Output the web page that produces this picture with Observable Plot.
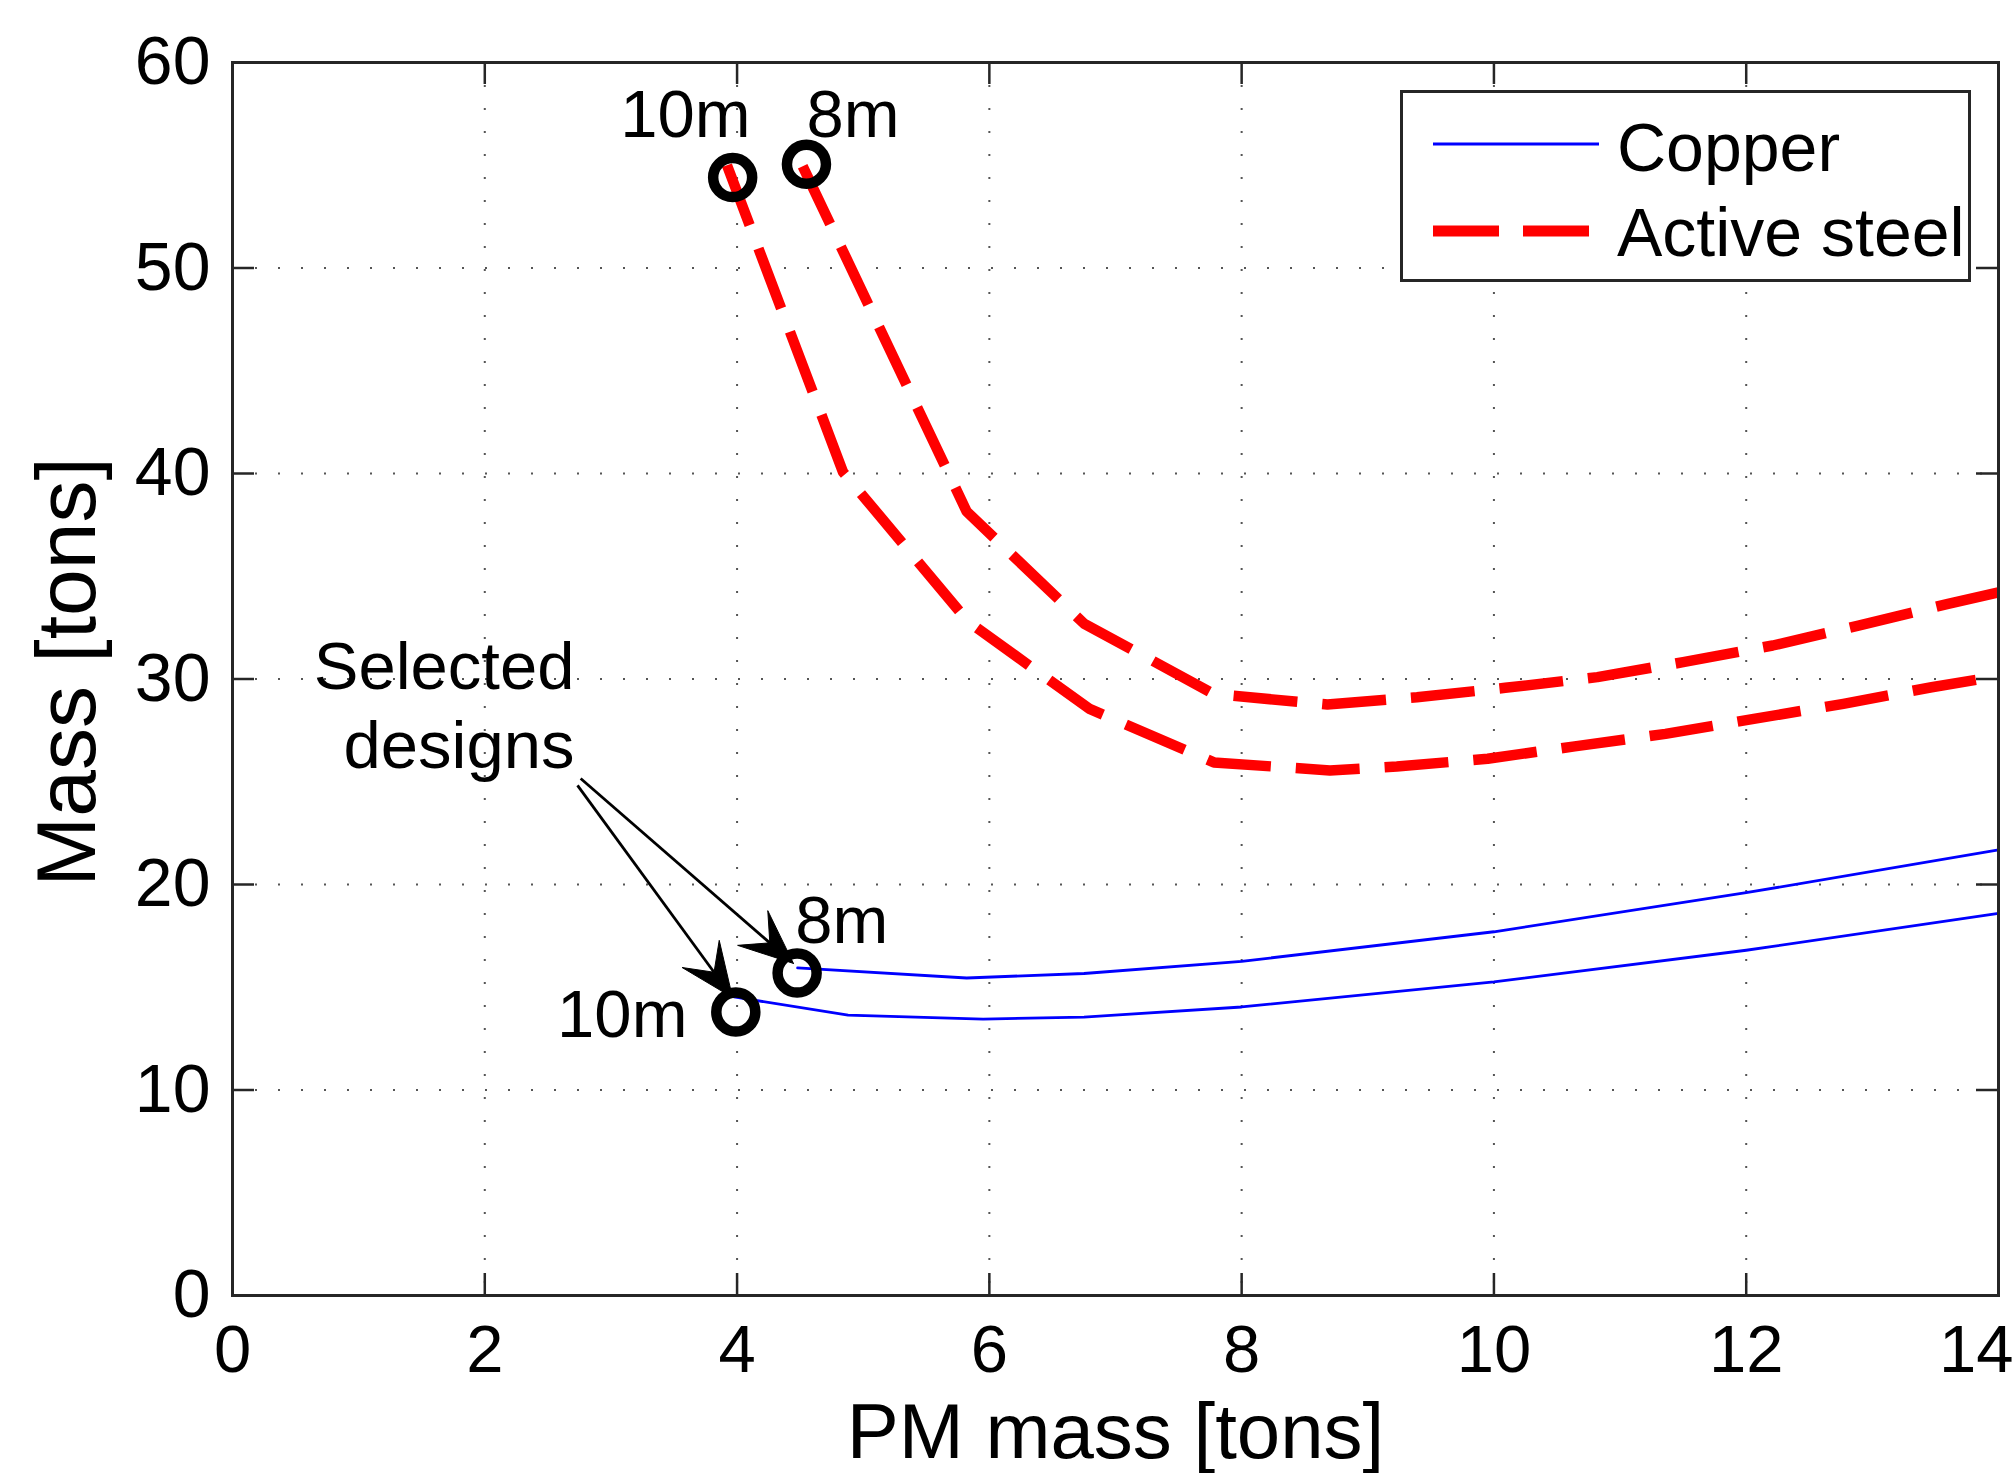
<!DOCTYPE html>
<html>
<head>
<meta charset="utf-8">
<script src="https://cdn.jsdelivr.net/npm/d3@7"></script>
<script src="https://cdn.jsdelivr.net/npm/@observablehq/plot@0.6"></script>
<style>
  html, body { margin: 0; padding: 0; background: #fff; overflow: hidden; }
  #wrap { position: relative; width: 2015px; height: 1473px; }
  #wrap > svg.chart { position: absolute; left: 0; top: 0; }
  #wrap > svg#legend { position: absolute; left: 1400px; top: 90px; }
</style>
</head>
<body>
<div id="wrap"></div>
<script>
// ---------- data ----------
const xTicks = [0, 2, 4, 6, 8, 10, 12, 14];
const yTicks = [0, 10, 20, 30, 40, 50, 60];

// Copper mass vs PM mass (tons)
const copper8X  = [4.48, 5.82, 6.75, 8.0, 10.0, 12.0, 14.0];
const copper8Y  = [15.94, 15.45, 15.67, 16.26, 17.7, 19.6, 21.68];
const copper10X = [3.975, 4.88, 5.95, 6.75, 8.0, 10.0, 12.0, 14.0];
const copper10Y = [14.53, 13.64, 13.45, 13.55, 14.04, 15.26, 16.8, 18.6];

// Active steel mass vs PM mass (tons)
const steel8X  = [4.52, 5.82, 6.75, 7.78, 8.68, 9.39, 10.09, 10.82, 11.5, 12.21, 12.89, 13.6, 14.0];
const steel8Y  = [54.95, 38.15, 32.7, 29.27, 28.76, 29.11, 29.57, 30.09, 30.82, 31.63, 32.6, 33.66, 34.22];
const steel10X = [3.92, 4.84, 5.83, 6.79, 7.78, 8.70, 9.23, 9.95, 10.64, 11.36, 12.06, 12.77, 13.47, 14.0];
const steel10Y = [55.0, 40.07, 32.8, 28.56, 25.94, 25.55, 25.74, 26.12, 26.72, 27.33, 28.06, 28.79, 29.6, 30.14];

// Selected designs (circles)
const selX = [3.965, 4.55, 4.476, 3.99];
const selY = [54.4, 55.05, 15.69, 13.79];

// Diameter labels
const diamLabels = ["10m", "8m", "8m", "10m"];
const diamX = [3.59, 4.92, 4.83, 3.09];
const diamY = [56.36, 56.36, 17.13, 12.57];

// Callout text
const calloutLines = ["Selected", "designs"];
const calloutX = [2.711, 2.711];
const calloutY = [29.49, 25.69];

// Callout arrows (from text to selected designs)
const arrowX1 = [2.76, 2.735];
const arrowY1 = [25.16, 24.82];
const arrowX2 = [4.447, 3.964];
const arrowY2 = [16.16, 14.50];

const legendLabels = ["Copper", "Active steel"];

// ---------- layout ----------
const W = 2015, H = 1473;
const mTop = 62, mRight = 17, mBottom = 178, mLeft = 232;
const xDomain = [0, 14], yDomain = [0, 60];
const kx = (W - mLeft - mRight) / (xDomain[1] - xDomain[0]);
const ky = (H - mTop - mBottom) / (yDomain[1] - yDomain[0]);
const tickLen = 22;
const font = "'Liberation Sans', Arial, Helvetica, sans-serif";

const toRows = (xs, ys) => xs.map((x, i) => ({x, y: ys[i]}));
const lastX = xTicks[xTicks.length - 1];

// Arrowheads: filled "vback" shape built in screen offsets then mapped to data
const headL = 54, headW = 23, notch = 0.58;
const heads = [];
const shafts = [];
arrowX1.forEach((_, i) => {
  const tx = arrowX2[i], ty = arrowY2[i];
  const dx = (tx - arrowX1[i]) * kx, dy = -(ty - arrowY1[i]) * ky;
  const len = Math.hypot(dx, dy), ux = dx / len, uy = dy / len;
  const nx = -uy, ny = ux;
  const pts = [
    [0, 0],
    [-headL * ux + headW * nx, -headL * uy + headW * ny],
    [-notch * headL * ux, -notch * headL * uy],
    [-headL * ux - headW * nx, -headL * uy - headW * ny],
    [0, 0]
  ];
  pts.forEach(([ox, oy]) => heads.push({id: i, x: tx + ox / kx, y: ty - oy / ky}));
  shafts.push({x1: arrowX1[i], y1: arrowY1[i],
               x2: tx - notch * headL * ux / kx, y2: ty + notch * headL * uy / ky});
});

const plot = Plot.plot({
  width: W, height: H,
  marginTop: mTop, marginRight: mRight, marginBottom: mBottom, marginLeft: mLeft,
  x: {domain: xDomain},
  y: {domain: yDomain},
  style: {fontFamily: font, color: "#000", background: "transparent", overflow: "visible"},
  marks: [
    Plot.gridX(xTicks, {stroke: "#555", strokeOpacity: 1, strokeWidth: 2, strokeDasharray: "2,21"}),
    Plot.gridY(yTicks, {stroke: "#555", strokeOpacity: 1, strokeWidth: 2, strokeDasharray: "2,21"}),
    // inner tick marks on all four sides
    Plot.ruleX(xTicks, {x: d => d, y1: yDomain[0], y2: yDomain[0] + tickLen / ky, stroke: "#262626", strokeWidth: 2.5}),
    Plot.ruleX(xTicks, {x: d => d, y1: yDomain[1] - tickLen / ky, y2: yDomain[1], stroke: "#262626", strokeWidth: 2.5}),
    Plot.ruleY(yTicks, {y: d => d, x1: xDomain[0], x2: xDomain[0] + tickLen / kx, stroke: "#262626", strokeWidth: 2.5}),
    Plot.ruleY(yTicks, {y: d => d, x1: xDomain[1] - tickLen / kx, x2: xDomain[1], stroke: "#262626", strokeWidth: 2.5}),
    Plot.axisX({ticks: xTicks.filter(t => t !== lastX), tickSize: 0, tickPadding: 29, fontSize: 67, label: null}),
    Plot.axisX({ticks: [lastX], tickSize: 0, tickPadding: 29, fontSize: 67, label: null, textAnchor: "end", dx: 15}),
    Plot.axisY({ticks: yTicks, tickSize: 0, tickPadding: 22, fontSize: 68, label: null}),
    // series
    Plot.line(toRows(copper8X, copper8Y), {x: "x", y: "y", stroke: "#0000ff", strokeWidth: 2.8}),
    Plot.line(toRows(copper10X, copper10Y), {x: "x", y: "y", stroke: "#0000ff", strokeWidth: 2.8}),
    Plot.line(toRows(steel8X, steel8Y), {x: "x", y: "y", stroke: "#ff0000", strokeWidth: 10.5, strokeDasharray: "64,25", strokeLinecap: "butt", strokeLinejoin: "round"}),
    Plot.line(toRows(steel10X, steel10Y), {x: "x", y: "y", stroke: "#ff0000", strokeWidth: 10.5, strokeDasharray: "64,25", strokeLinecap: "butt", strokeLinejoin: "round"}),
    // selected designs
    Plot.dot(toRows(selX, selY), {x: "x", y: "y", r: 19.5, stroke: "#000", strokeWidth: 10.5, fill: "none"}),
    // callout arrows
    Plot.link(shafts, {x1: "x1", y1: "y1", x2: "x2", y2: "y2", stroke: "#000", strokeWidth: 2.8}),
    Plot.line(heads, {x: "x", y: "y", z: "id", fill: "#000", stroke: "#000", strokeWidth: 1, strokeLinejoin: "miter"}),
    // labels
    Plot.text(diamLabels, {x: (d, i) => diamX[i], y: (d, i) => diamY[i], text: d => d, textAnchor: "middle", lineAnchor: "bottom", fontSize: 67, fill: "#000"}),
    Plot.text(calloutLines, {x: (d, i) => calloutX[i], y: (d, i) => calloutY[i], text: d => d, textAnchor: "end", lineAnchor: "bottom", fontSize: 67, fill: "#000"}),
    // axis titles
    Plot.text(["PM mass [tons]"], {frameAnchor: "bottom", dy: 162, lineAnchor: "bottom", textAnchor: "middle", fontSize: 78, fill: "#000"}),
    Plot.text(["Mass [tons]"], {frameAnchor: "left", dx: -138, dy: -7, rotate: -90, lineAnchor: "bottom", textAnchor: "middle", fontSize: 84, fill: "#000"}),
    Plot.frame({stroke: "#262626", strokeWidth: 3})
  ]
});
plot.classList.add("chart");

const wrap = document.getElementById("wrap");
wrap.appendChild(plot);

// ---------- legend (inside the axes, upper right) ----------
const lw = 571, lh = 192;
const leg = d3.create("svg")
  .attr("id", "legend")
  .attr("width", lw).attr("height", lh)
  .style("font-family", font);
leg.append("rect").attr("x", 1.5).attr("y", 1.5).attr("width", lw - 3).attr("height", lh - 3)
  .attr("fill", "#fff").attr("stroke", "#262626").attr("stroke-width", 3);
const legStyles = [
  {stroke: "#0000ff", width: 3, dash: null},
  {stroke: "#ff0000", width: 11, dash: "66,24"}
];
legendLabels.forEach((lab, i) => {
  const cy = i === 0 ? 54 : 141;
  leg.append("line").attr("x1", 33).attr("x2", i === 0 ? 199 : 190).attr("y1", cy).attr("y2", cy)
    .attr("stroke", legStyles[i].stroke).attr("stroke-width", legStyles[i].width)
    .attr("stroke-dasharray", legStyles[i].dash);
  leg.append("text").attr("x", 217).attr("y", i === 0 ? 81 : 166)
    .attr("font-size", 68).attr("fill", "#000").text(lab);
});
wrap.appendChild(leg.node());
</script>
</body>
</html>
